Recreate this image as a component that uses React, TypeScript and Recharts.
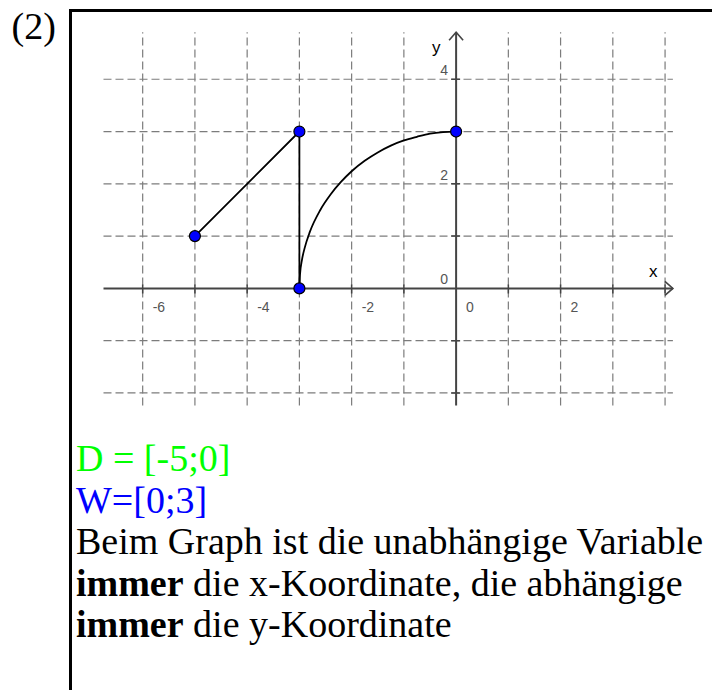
import React from 'react';
import {
  ComposedChart,
  XAxis,
  YAxis,
  ReferenceLine,
  Line,
  Scatter,
} from 'recharts';

// grid / tick positions
const xTicks = [-6, -5, -4, -3, -2, -1, 0, 1, 2, 3, 4];
const yTicks = [-2, -1, 0, 1, 2, 3, 4];
const xLabelValues = [-6, -4, -2, 0, 2];
const yLabelValues = [0, 2, 4];

// straight part of the graph: (-5|1) -> (-3|3) -> (-3|0)
const segX = [-5, -3, -3];
const segY = [1, 3, 0];

// arc from (-3|0) up to (0|3)
const arcX = [-3, -2.99, -2.95, -2.9, -2.8, -2.6, -2.4, -2.2, -2, -1.75, -1.5, -1.25, -1, -0.75, -0.5, -0.25, 0];
const arcY = [0, 0.25, 0.55, 0.77, 1.08, 1.5, 1.8, 2.04, 2.24, 2.44, 2.6, 2.73, 2.83, 2.9, 2.96, 2.99, 3];

// marked points
const pointX = [-5, -3, -3, 0];
const pointY = [1, 3, 0, 3];

const segData = segX.map((x, i) => ({ x, y: segY[i] }));
const arcData = arcX.map((x, i) => ({ x, y: arcY[i] }));
const pointData = pointX.map((x, i) => ({ x, y: pointY[i] }));
const xTickData = xTicks.filter((v) => v !== 0).map((x) => ({ x, y: 0 }));
const yTickData = yTicks.filter((v) => v !== 0).map((y) => ({ x: 0, y }));
const xLabelData = xLabelValues.map((x) => ({ x, y: 0 }));
const yLabelData = yLabelValues.map((y) => ({ x: 0, y }));

const AXIS = '#444444';
const GRID = '#7c7c7c';
const LABEL_FONT = '"Liberation Sans", Arial, sans-serif';
const TEXT_FONT = '"Liberation Serif", "Times New Roman", serif';

const XAxisArrow = (props: any) => {
  const { x1, y1, x2 } = props;
  const left = Math.min(x1, x2);
  const right = Math.max(x1, x2);
  return (
    <g>
      <line x1={left} y1={y1} x2={right} y2={y1} stroke={AXIS} strokeWidth={2} />
      <path d={`M${right - 8},${y1 - 7} L${right},${y1} L${right - 8},${y1 + 7}`} fill="none" stroke={AXIS} strokeWidth={1.6} />
      <text x={right - 24} y={y1 - 11} fontFamily={LABEL_FONT} fontSize={17} fill="#000">x</text>
    </g>
  );
};

const YAxisArrow = (props: any) => {
  const { x1, y1, y2 } = props;
  const top = Math.min(y1, y2);
  const bottom = Math.max(y1, y2);
  return (
    <g>
      <line x1={x1} y1={bottom} x2={x1} y2={top} stroke={AXIS} strokeWidth={2} />
      <path d={`M${x1 - 7},${top + 8} L${x1},${top} L${x1 + 7},${top + 8}`} fill="none" stroke={AXIS} strokeWidth={1.6} />
      <text x={x1 - 24} y={top + 21} fontFamily={LABEL_FONT} fontSize={17} fill="#000">y</text>
    </g>
  );
};

const App: React.FC = () => {
  return (
    <div style={{ position: 'absolute', left: 0, top: 0, width: 712, height: 690, overflow: 'hidden', background: '#fff' }}>
      <div
        style={{
          position: 'absolute',
          left: 69,
          top: 9,
          width: 700,
          height: 700,
          borderLeft: '3px solid #000',
          borderTop: '3px solid #000',
        }}
      />
      <div style={{ position: 'absolute', left: 11.5, top: 6, fontFamily: TEXT_FONT, fontSize: 38, lineHeight: '41.6px' }}>
        (2)
      </div>

      <div style={{ position: 'absolute', left: 0, top: 0 }}>
        <ComposedChart width={712} height={420} margin={{ top: 32.2, right: 39.1, bottom: 14.5, left: 103.5 }}>
          <XAxis type="number" dataKey="x" domain={[-6.75, 4.15]} ticks={xTicks} allowDataOverflow hide />
          <YAxis type="number" dataKey="y" domain={[-2.24, 4.9]} ticks={yTicks} allowDataOverflow hide />
          {xTicks
            .filter((t) => t !== 0)
            .map((t) => (
              <ReferenceLine key={`gx${t}`} x={t} stroke={GRID} strokeWidth={1.2} strokeDasharray="8 4" />
            ))}
          {yTicks
            .filter((t) => t !== 0)
            .map((t) => (
              <ReferenceLine key={`gy${t}`} y={t} stroke={GRID} strokeWidth={1.2} strokeDasharray="8 4" />
            ))}
          <ReferenceLine y={0} shape={XAxisArrow} />
          <ReferenceLine x={0} shape={YAxisArrow} />
          <Scatter
            data={xTickData}
            isAnimationActive={false}
            shape={(p: any) => <line x1={p.cx} y1={p.cy - 4} x2={p.cx} y2={p.cy + 5} stroke={AXIS} strokeWidth={1.5} />}
          />
          <Scatter
            data={yTickData}
            isAnimationActive={false}
            shape={(p: any) => <line x1={p.cx - 5} y1={p.cy} x2={p.cx + 4} y2={p.cy} stroke={AXIS} strokeWidth={1.5} />}
          />
          <Scatter
            data={xLabelData}
            isAnimationActive={false}
            shape={(p: any) => (
              <text x={p.cx + 10} y={p.cy + 24} fontFamily={LABEL_FONT} fontSize={14} fill="#555">
                {String(p.payload.x)}
              </text>
            )}
          />
          <Scatter
            data={yLabelData}
            isAnimationActive={false}
            shape={(p: any) => (
              <text x={p.cx - 8} y={p.cy - 4} textAnchor="end" fontFamily={LABEL_FONT} fontSize={14} fill="#555">
                {String(p.payload.y)}
              </text>
            )}
          />
          <Line data={segData} dataKey="y" type="linear" stroke="#000" strokeWidth={1.8} dot={false} activeDot={false} isAnimationActive={false} />
          <Line data={arcData} dataKey="y" type="monotone" stroke="#000" strokeWidth={1.8} dot={false} activeDot={false} isAnimationActive={false} />
          <Scatter
            data={pointData}
            isAnimationActive={false}
            shape={(p: any) => <circle cx={p.cx} cy={p.cy} r={5.5} fill="#0000ff" stroke="#000" strokeWidth={1.2} />}
          />
        </ComposedChart>
      </div>

      <div
        style={{
          position: 'absolute',
          left: 76,
          top: 438,
          fontFamily: TEXT_FONT,
          fontSize: 38,
          lineHeight: '41.6px',
          color: '#000',
          whiteSpace: 'nowrap',
        }}
      >
        <div style={{ color: '#00ff00' }}>D = [-5;0]</div>
        <div style={{ color: '#0000ff' }}>W=[0;3]</div>
        <div>Beim Graph ist die unabhängige Variable</div>
        <div>
          <b>immer</b> die x-Koordinate, die abhängige
        </div>
        <div>
          <b>immer</b> die y-Koordinate
        </div>
      </div>
    </div>
  );
};

export default App;
